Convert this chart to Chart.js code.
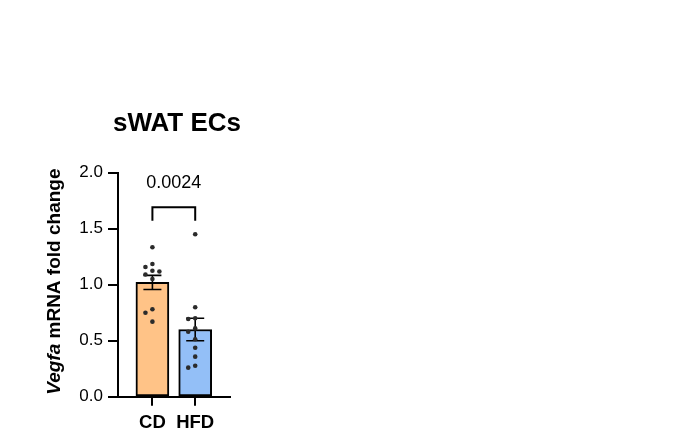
<!DOCTYPE html>
<html>
<head>
<meta charset="utf-8">
<script src="https://cdn.jsdelivr.net/npm/chart.js@4.4.1/dist/chart.umd.min.js"></script>
<style>
  html, body { margin: 0; padding: 0; background: #fff; }
  #wrap { width: 673px; height: 438px; position: relative; }
</style>
</head>
<body>
<div id="wrap"><canvas id="vegfaChart"></canvas></div>
<script>
// values
const categories = ["CD", "HFD"];
const cdValues = [1.333, 1.184, 1.157, 1.124, 1.117, 1.09, 1.05, 0.78, 0.75, 0.67];
const hfdValues = [1.449, 0.798, 0.70, 0.694, 0.61, 0.58, 0.513, 0.438, 0.358, 0.277, 0.26];
const means = [1.02, 0.60];
const sems = [0.063, 0.10];
const yTicks = [0, 0.5, 1.0, 1.5, 2.0];
const pValue = "0.0024";
const chartTitle = "sWAT ECs";

const barColors = ["#FFC387", "#93BFF7"];
const FONT = "'Liberation Sans', Arial, Helvetica, sans-serif";

// simple beeswarm so overlapping dots get pushed sideways
function swarm(values, stepPx, gapPx) {
  const pxX = 43, pxY = 112; // rough px per unit on each axis
  const placed = [];
  return values.map(v => {
    for (const k of [0, -1, 1, -2, 2, -3, 3]) {
      const dx = k * stepPx;
      const ok = placed.every(p => Math.hypot(p.dx - dx, (p.v - v) * pxY) >= gapPx);
      if (ok) { placed.push({ dx, v }); return dx / pxX; }
    }
    placed.push({ dx: 0, v });
    return 0;
  });
}

const groups = [cdValues, hfdValues];
const dots = [];
groups.forEach((vals, i) => {
  const offs = swarm(vals, 7, 6);
  vals.forEach((v, j) => dots.push({ x: i + offs[j], y: v }));
});

const errorBars = {
  id: "errorBars",
  afterDatasetDraw(chart, args) {
    if (args.index !== 0) return;
    const { ctx, scales: { x, y } } = chart;
    ctx.save();
    ctx.strokeStyle = "#000";
    ctx.lineWidth = 1.6;
    means.forEach((m, i) => {
      const cx = x.getPixelForValue(i);
      const top = y.getPixelForValue(m + sems[i]);
      const bot = y.getPixelForValue(m - sems[i]);
      ctx.beginPath();
      ctx.moveTo(cx, top); ctx.lineTo(cx, bot);
      ctx.moveTo(cx - 9, top); ctx.lineTo(cx + 9, top);
      ctx.moveTo(cx - 9, bot); ctx.lineTo(cx + 9, bot);
      ctx.stroke();
    });
    ctx.restore();
  }
};

const extras = {
  id: "extras",
  afterDatasetsDraw(chart) {
    const { ctx, chartArea, scales: { x, y } } = chart;
    ctx.save();
    // significance bracket
    const x0 = x.getPixelForValue(0), x1 = x.getPixelForValue(1);
    const yt = y.getPixelForValue(1.69), ye = y.getPixelForValue(1.57);
    ctx.strokeStyle = "#000";
    ctx.lineWidth = 2;
    ctx.beginPath();
    ctx.moveTo(x0, ye); ctx.lineTo(x0, yt); ctx.lineTo(x1, yt); ctx.lineTo(x1, ye);
    ctx.stroke();
    ctx.fillStyle = "#000";
    ctx.font = "18px " + FONT;
    ctx.textAlign = "center";
    ctx.textBaseline = "middle";
    ctx.fillText(pValue, (x0 + x1) / 2, y.getPixelForValue(1.906));

    // title, centred a bit right of the plot
    ctx.font = "bold 26px " + FONT;
    ctx.fillText(chartTitle, (chartArea.left + chartArea.right) / 2 + 3, chartArea.top - 49);

    // y axis title with italic gene name
    const a = "Vegfa", b = " mRNA fold change";
    ctx.translate(54.5, (chartArea.top + chartArea.bottom) / 2 - 3);
    ctx.rotate(-Math.PI / 2);
    ctx.font = "italic bold 19px " + FONT;
    const wa = ctx.measureText(a).width;
    ctx.font = "bold 19px " + FONT;
    const wb = ctx.measureText(b).width;
    const start = -(wa + wb) / 2;
    ctx.textAlign = "left";
    ctx.font = "italic bold 19px " + FONT;
    ctx.fillText(a, start, 0);
    ctx.font = "bold 19px " + FONT;
    ctx.fillText(b, start + wa, 0);
    ctx.restore();
  }
};

new Chart(document.getElementById("vegfaChart"), {
  data: {
    datasets: [
      {
        type: "bar",
        data: means.map((m, i) => ({ x: i, y: m })),
        backgroundColor: barColors,
        borderColor: "#000",
        borderWidth: 2,
        borderSkipped: false,
        barThickness: 33,
        order: 2
      },
      {
        type: "scatter",
        data: dots,
        pointRadius: 2.3,
        pointBackgroundColor: "#2b2b2b",
        pointBorderWidth: 0,
        order: 1
      }
    ]
  },
  plugins: [errorBars, extras],
  options: {
    responsive: true,
    maintainAspectRatio: false,
    animation: false,
    layout: { padding: { left: 0, right: 443, top: 172.5, bottom: 0 } },
    plugins: {
      legend: { display: false },
      tooltip: { enabled: false },
      title: { display: false }
    },
    scales: {
      x: {
        type: "linear",
        offset: false,
        min: -0.804,
        max: 1.813,
        afterBuildTicks: s => { s.ticks = categories.map((c, i) => ({ value: i })); },
        afterFit: s => { s.height = 41.2; },
        ticks: {
          callback: v => categories[v],
          color: "#000",
          padding: 6,
          maxRotation: 0,
          font: { family: FONT, size: 18.5, weight: "bold" }
        },
        grid: { offset: false, drawOnChartArea: false, drawTicks: true, tickLength: 9, color: "#000", lineWidth: 2 },
        border: { display: true, color: "#000", width: 2 }
      },
      y: {
        min: 0,
        max: 2,
        afterBuildTicks: s => { s.ticks = yTicks.map(v => ({ value: v })); },
        afterFit: s => { s.width = 118; },
        ticks: {
          callback: v => v.toFixed(1),
          color: "#000",
          padding: 5,
          font: { family: FONT, size: 17 }
        },
        grid: { drawOnChartArea: false, drawTicks: true, tickLength: 10, color: "#000", lineWidth: 2 },
        border: { display: true, color: "#000", width: 2 }
      }
    }
  }
});
</script>
</body>
</html>
